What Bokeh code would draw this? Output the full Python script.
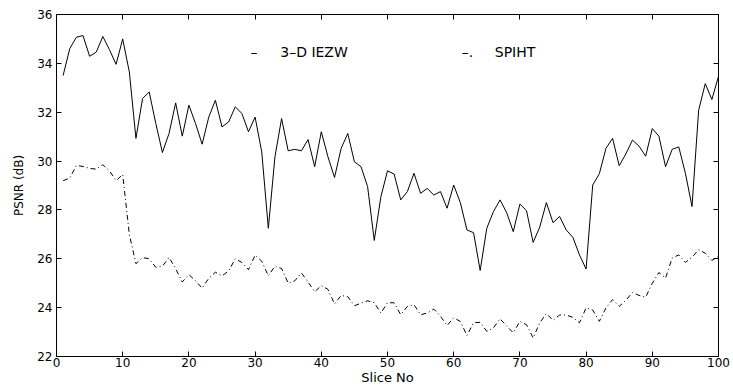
from bokeh.plotting import figure
from bokeh.models import LinearAxis, Label, FixedTicker, Range1d, CustomJSTickFormatter
from bokeh.embed import file_html
from bokeh.resources import INLINE

slices = list(range(1, 101))

iezw = [33.50, 34.60, 35.07, 35.14, 34.29, 34.46, 35.10, 34.56, 33.96, 35.00,
        33.65, 30.93, 32.56, 32.83, 31.54, 30.35, 31.13, 32.38, 31.02, 32.29,
        31.54, 30.69, 31.80, 32.49, 31.40, 31.60, 32.22, 31.95, 31.20, 31.80,
        30.38, 27.25, 30.18, 31.74, 30.42, 30.48, 30.42, 30.88, 29.77, 31.20,
        30.18, 29.33, 30.52, 31.13, 29.97, 29.77, 28.95, 26.75, 28.54, 29.60,
        29.47, 28.41, 28.75, 29.50, 28.68, 28.88, 28.61, 28.75, 28.07, 29.02,
        28.30, 27.18, 27.07, 25.52, 27.25, 27.93, 28.41, 27.89, 27.11, 28.24,
        27.97, 26.67, 27.30, 28.30, 27.48, 27.73, 27.18, 26.88, 26.16, 25.58,
        29.02, 29.48, 30.52, 30.93, 29.81, 30.29, 30.86, 30.61, 30.20, 31.33,
        31.02, 29.77, 30.48, 30.58, 29.50, 28.14, 32.08, 33.17, 32.52, 33.47]

spiht = [29.20, 29.30, 29.82, 29.78, 29.70, 29.67, 29.85, 29.60, 29.20, 29.45,
         27.00, 25.80, 26.05, 26.00, 25.65, 25.70, 26.05, 25.60, 25.05, 25.35,
         25.10, 24.80, 25.20, 25.45, 25.30, 25.50, 26.00, 25.85, 25.55, 26.15,
         25.90, 25.30, 25.70, 25.60, 25.00, 25.10, 25.42, 25.05, 24.65, 24.90,
         24.75, 24.15, 24.50, 24.45, 24.08, 24.18, 24.28, 24.20, 23.78, 24.20,
         24.20, 23.71, 24.05, 24.12, 23.71, 23.78, 23.94, 23.65, 23.27, 23.58,
         23.44, 22.86, 23.38, 23.40, 23.03, 23.17, 23.54, 23.25, 22.97, 23.44,
         23.30, 22.76, 23.38, 23.76, 23.48, 23.70, 23.70, 23.60, 23.38, 23.99,
         23.90, 23.44, 23.99, 24.33, 24.05, 24.30, 24.62, 24.50, 24.43, 25.00,
         25.44, 25.21, 26.03, 26.16, 25.85, 26.07, 26.37, 26.23, 25.93, 26.10]

x_ticks = list(range(0, 101, 10))
y_ticks = list(range(22, 37, 2))
x_label = "Slice No"
y_label = "PSNR (dB)"
series_names = ["3\u2013D IEZW", "SPIHT"]
legend_marks = ["\u2013", "\u2013."]

FONT = "DejaVu Sans"

p = figure(width=733, height=387, output_backend="svg", toolbar_location=None,
           x_range=Range1d(0, 100), y_range=Range1d(22, 36),
           min_border_left=56, min_border_right=15, min_border_top=14,
           min_border_bottom=30, background_fill_color="white",
           border_fill_color="white")
p.grid.visible = False
p.outline_line_color = "black"
p.outline_line_width = 1

p.line(slices, iezw, line_color="black", line_width=1)
p.line(slices, spiht, line_color="black", line_width=1, line_dash="5 3 1 3")


def style_axis(ax, show_labels):
    ax.major_tick_in = 5
    ax.major_tick_out = 0
    ax.minor_tick_line_color = None
    ax.axis_line_color = "black"
    ax.major_tick_line_color = "black"
    ax.major_label_text_font = FONT
    ax.major_label_text_color = "black"
    ax.axis_label_text_font = FONT
    ax.axis_label_text_font_style = "normal"
    ax.axis_label_text_color = "black"
    ax.major_label_text_font_size = "12px"
    ax.axis_label_text_font_size = "12px"
    if not show_labels:
        ax.formatter = CustomJSTickFormatter(code="return ''")
        ax.major_label_standoff = 0


xa = p.xaxis[0]
xa.ticker = FixedTicker(ticks=x_ticks)
style_axis(xa, True)
xa.axis_label = x_label
xa.axis_label_text_font_size = "13px"
xa.major_label_standoff = 1
xa.axis_label_standoff = 0

ya = p.yaxis[0]
ya.ticker = FixedTicker(ticks=y_ticks)
style_axis(ya, True)
ya.axis_label = y_label
ya.major_label_standoff = 4
ya.axis_label_standoff = 8

top = LinearAxis(ticker=FixedTicker(ticks=x_ticks))
style_axis(top, False)
p.add_layout(top, "above")

right = LinearAxis(ticker=FixedTicker(ticks=y_ticks))
style_axis(right, False)
p.add_layout(right, "right")

# text legend in the MATLAB style
leg_y = 34.45
for mx, tx, mark, name in [(29.3, 33.8, legend_marks[0], series_names[0]),
                           (61.2, 66.2, legend_marks[1], series_names[1])]:
    p.add_layout(Label(x=mx, y=leg_y, text=mark, text_font=FONT,
                       text_font_size="14px", text_baseline="middle",
                       text_color="black"))
    p.add_layout(Label(x=tx, y=leg_y, text=name, text_font=FONT,
                       text_font_size="14px", text_baseline="middle",
                       text_color="black"))

open("out.html", "w").write(file_html(p, INLINE))
